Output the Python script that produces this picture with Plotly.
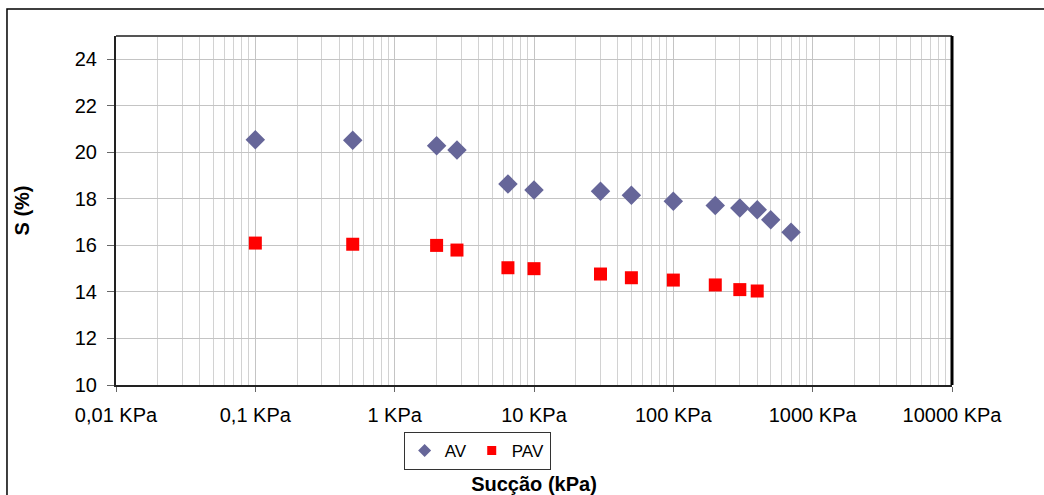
import plotly.graph_objects as go

av_x = [0.1, 0.5, 2, 2.8, 6.5, 10, 30, 50, 100, 200, 300, 400, 500, 700]
av_y = [20.54, 20.52, 20.28, 20.1, 18.64, 18.38, 18.33, 18.16, 17.9, 17.71, 17.61, 17.53, 17.1, 16.57]
pav_x = [0.1, 0.5, 2, 2.8, 6.5, 10, 30, 50, 100, 200, 300, 400]
pav_y = [16.1, 16.05, 16.0, 15.8, 15.04, 15.0, 14.77, 14.61, 14.51, 14.3, 14.1, 14.04]
x_tickvals = [0.01, 0.1, 1, 10, 100, 1000, 10000]
x_ticktext = ["0,01 KPa", "0,1 KPa", "1 KPa", "10 KPa", "100 KPa", "1000 KPa", "10000 KPa"]
y_tickvals = [10, 12, 14, 16, 18, 20, 22, 24]

minor_vals = [m * d for d in [0.01, 0.1, 1, 10, 100, 1000] for m in range(2, 10)]

fig = go.Figure()
fig.add_trace(go.Scatter(x=av_x, y=av_y, mode="markers", name="AV", showlegend=False,
                         marker=dict(symbol="diamond", size=15, color="#666699")))
fig.add_trace(go.Scatter(x=pav_x, y=pav_y, mode="markers", name="PAV", showlegend=False,
                         marker=dict(symbol="square", size=13, color="#FF0000")))
# legend entries (smaller symbols as in reference)
fig.add_trace(go.Scatter(x=[None], y=[None], mode="markers", name="AV",
                         marker=dict(symbol="diamond", size=10, color="#666699")))
fig.add_trace(go.Scatter(x=[None], y=[None], mode="markers", name="PAV",
                         marker=dict(symbol="square", size=9, color="#FF0000")))

font = "Liberation Sans, Arial, sans-serif"
fig.update_layout(
    width=1044, height=495,
    margin=dict(l=116, r=92, t=36, b=110),
    paper_bgcolor="white", plot_bgcolor="white",
    font=dict(family=font, size=20, color="black"),
    showlegend=True,
    legend=dict(orientation="h", x=0.432, y=-0.189, xanchor="center", yanchor="middle",
                bordercolor="#333333", borderwidth=1, font=dict(size=17),
                itemwidth=30, tracegroupgap=0, itemsizing="trace"),
    xaxis=dict(type="log", range=[-2, 4], tickvals=x_tickvals, ticktext=x_ticktext,
               showgrid=True, gridcolor="#c4c4c4", gridwidth=1,
               minor=dict(tickvals=minor_vals, showgrid=True, gridcolor="#d2d2d2", gridwidth=1, ticks=""),
               ticks="outside", ticklen=5, tickcolor="#666666", ticklabelstandoff=6,
               tickfont=dict(size=20), automargin=False,
               showline=True, linecolor="#222222", linewidth=2, mirror=False,
               zeroline=False,
               title=dict(text="<b>Sucção (kPa)</b>", font=dict(size=20), standoff=58)),
    yaxis=dict(range=[10, 25], tickvals=y_tickvals, showgrid=True, gridcolor="#c4c4c4",
               ticks="outside", ticklen=7, tickcolor="#666666", ticklabelstandoff=6,
               tickfont=dict(size=20), automargin=False,
               showline=True, linecolor="#222222", linewidth=2, zeroline=False,
               title=dict(text="<b>S (%)</b>", font=dict(size=20), standoff=40)),
)

# plot-area frame (top gray, right black)
fig.add_shape(type="line", xref="paper", yref="paper", x0=0, x1=1, y0=1, y1=1,
              line=dict(color="#555555", width=2))
fig.add_shape(type="line", xref="paper", yref="paper", x0=1, x1=1, y0=0, y1=1,
              line=dict(color="#000000", width=3))
# outer chart frame
fig.add_shape(type="rect", xref="paper", yref="paper", x0=-0.1304, x1=1.3, y0=-0.5, y1=1.0774,
              line=dict(color="#000000", width=1.5), layer="below")

fig.write_html("out.html")
